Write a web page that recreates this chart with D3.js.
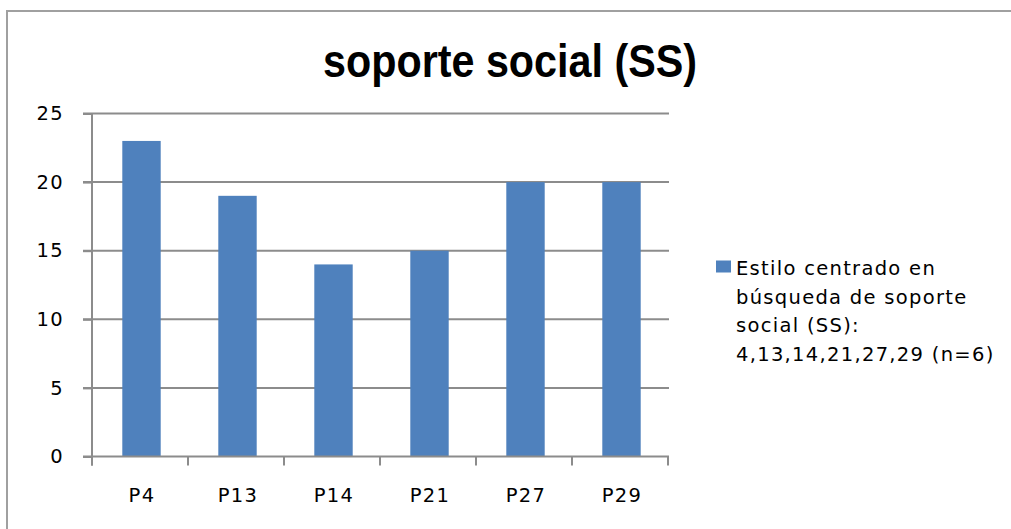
<!DOCTYPE html>
<html>
<head>
<meta charset="utf-8">
<script src="https://cdn.jsdelivr.net/npm/d3@7"></script>
<style>
  body { margin: 0; background: #fff; overflow: hidden; }
  svg { display: block; }
</style>
</head>
<body>
<div id="chart"></div>
<script>
// Data
const categories = ['P4', 'P13', 'P14', 'P21', 'P27', 'P29'];
const values = [23, 19, 14, 15, 20, 20];
const yTicks = [0, 5, 10, 15, 20, 25];
const chartTitle = 'soporte social (SS)';
const legendLines = ['Estilo centrado en', 'búsqueda de soporte', 'social (SS):', '4,13,14,21,27,29 (n=6)'];

// Graph setup
const width = 1011;
const height = 529;
const plot = { left: 92, right: 668, top: 113.5, bottom: 456.5 };
const barColor = '#4F81BD';
const gridColor = '#8c8c8c';
const labelFont = '"DejaVu Sans", Verdana, sans-serif';
const labelSpacing = '1.3px';

const svg = d3.select('#chart')
  .append('svg')
  .attr('width', width)
  .attr('height', height);

// outer chart border (only top and left edges are inside the picture)
svg.append('path')
  .attr('d', `M7,${height}V11H${width}`)
  .attr('fill', 'none')
  .attr('stroke', '#a0a0a0')
  .attr('stroke-width', 2);

const x = d3.scaleBand()
  .domain(categories)
  .range([plot.left, plot.right])
  .paddingInner(0.6)
  .paddingOuter(0.3);

const y = d3.scaleLinear()
  .domain([0, 25])
  .range([plot.bottom, plot.top]);

// title
svg.append('text')
  .attr('x', 510)
  .attr('y', 77)
  .attr('text-anchor', 'middle')
  .attr('textLength', 374)
  .attr('lengthAdjust', 'spacingAndGlyphs')
  .style('font-family', '"Liberation Sans Narrow", "Liberation Sans", Arial, sans-serif')
  .style('font-weight', 'bold')
  .style('font-size', '46px')
  .style('fill', '#000')
  .text(chartTitle);

// gridlines
svg.append('g')
  .selectAll('line')
  .data(yTicks.filter(d => d > 0))
  .enter()
  .append('line')
  .attr('x1', plot.left - 9)
  .attr('x2', plot.right + 1)
  .attr('y1', d => y(d))
  .attr('y2', d => y(d))
  .attr('stroke', gridColor)
  .attr('stroke-width', 2);

// bars
svg.append('g')
  .selectAll('rect')
  .data(values)
  .enter()
  .append('rect')
  .attr('x', (d, i) => x(categories[i]) + 1.5)
  .attr('y', d => y(d))
  .attr('width', x.bandwidth())
  .attr('height', d => y(0) - y(d))
  .attr('fill', barColor);

// y axis
const yAxis = svg.append('g')
  .attr('transform', `translate(${plot.left},0)`)
  .call(d3.axisLeft(y).tickValues(yTicks).tickSize(9).tickPadding(19));
yAxis.select('.domain')
  .attr('stroke', gridColor)
  .attr('stroke-width', 2)
  .attr('d', `M0,${plot.top}V${plot.bottom + 9}`);
yAxis.selectAll('.tick line')
  .attr('stroke', gridColor)
  .attr('stroke-width', 2);
yAxis.selectAll('.tick text')
  .style('font-family', labelFont)
  .style('font-size', '19.5px')
  .style('letter-spacing', labelSpacing)
  .style('fill', '#000');

// x axis: ticks sit at category boundaries
const boundaries = d3.range(categories.length + 1).map(i => plot.left + i * x.step());
const xAxis = svg.append('g');
xAxis.append('line')
  .attr('x1', plot.left - 9)
  .attr('x2', plot.right + 1)
  .attr('y1', y(0))
  .attr('y2', y(0))
  .attr('stroke', gridColor)
  .attr('stroke-width', 2);
xAxis.selectAll('.xtick')
  .data(boundaries)
  .enter()
  .append('line')
  .attr('class', 'xtick')
  .attr('x1', d => d)
  .attr('x2', d => d)
  .attr('y1', y(0))
  .attr('y2', y(0) + 9)
  .attr('stroke', gridColor)
  .attr('stroke-width', 2);
xAxis.selectAll('.xlabel')
  .data(categories)
  .enter()
  .append('text')
  .attr('class', 'xlabel')
  .attr('x', d => x(d) + x.bandwidth() / 2 + 2)
  .attr('y', 501.5)
  .attr('text-anchor', 'middle')
  .style('font-family', labelFont)
  .style('font-size', '19.5px')
  .style('letter-spacing', labelSpacing)
  .style('fill', '#000')
  .text(d => d);

// legend
const legend = svg.append('g');
legend.append('rect')
  .attr('x', 716)
  .attr('y', 260.5)
  .attr('width', 15)
  .attr('height', 12)
  .attr('fill', barColor);
legend.selectAll('text')
  .data(legendLines)
  .enter()
  .append('text')
  .attr('x', 736)
  .attr('y', (d, i) => 275 + i * 28.6)
  .style('font-family', labelFont)
  .style('font-size', '19.5px')
  .style('letter-spacing', labelSpacing)
  .style('fill', '#000')
  .text(d => d);
</script>
</body>
</html>
